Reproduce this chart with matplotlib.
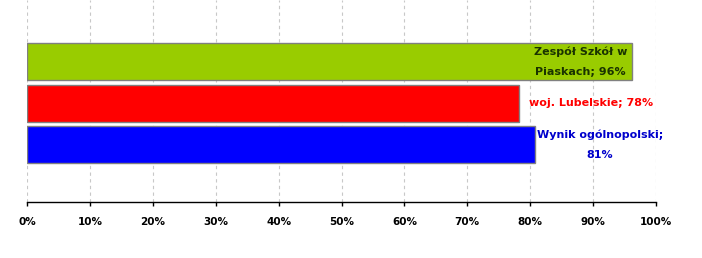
import matplotlib
matplotlib.use("Agg")
import matplotlib.pyplot as plt
from matplotlib.ticker import PercentFormatter

# data (bottom to top)
series_names = ["Wynik ogólnopolski", "woj. Lubelskie", "Zespół Szkół w Piaskach"]
series_values = [80.7, 78.2, 96.2]
bar_colors = ["#0000FF", "#FF0000", "#99CC00"]
label_colors = ["#0000CC", "#FF0000", "#1A3300"]
label_texts = ["Wynik ogólnopolski;\n81%", "woj. Lubelskie; 78%", "Zespół Szkół w\nPiaskach; 96%"]
x_ticks = [0, 10, 20, 30, 40, 50, 60, 70, 80, 90, 100]

fig = plt.figure(figsize=(7.02, 2.58), dpi=100)
ax = fig.add_axes([27 / 702, 56 / 258, 629 / 702, 202 / 258])

ypos = list(range(len(series_values)))
ax.barh(ypos, series_values, height=0.89, color=bar_colors,
        edgecolor="#808080", linewidth=1.0, zorder=3)

ax.set_xlim(0, 100)
ax.set_ylim(-1.38, 3.48)
ax.set_xticks(x_ticks)
ax.xaxis.set_major_formatter(PercentFormatter(decimals=0))
ax.set_yticks([])
ax.grid(axis="x", color="#C8C8C8", linestyle=(0, (3, 3)), linewidth=0.8, zorder=0)
for s in ["left", "right", "top"]:
    ax.spines[s].set_visible(False)
ax.spines["bottom"].set_linewidth(1.0)
ax.tick_params(axis="x", length=3, width=1, pad=8, labelsize=7.5)
for t in ax.get_xticklabels():
    t.set_fontweight("bold")
    t.set_family("DejaVu Sans")

font = dict(fontsize=8, fontweight="bold", family="DejaVu Sans", zorder=5)
# labels
ax.annotate(label_texts[0], (series_values[0], ypos[0]), xytext=(47, 0),
            textcoords="offset points", ha="center", va="center",
            color=label_colors[0], linespacing=2.2, **font)
ax.annotate(label_texts[1], (series_values[1], ypos[1]), xytext=(7, 0),
            textcoords="offset points", ha="left", va="center",
            color=label_colors[1], **font)
ax.annotate(label_texts[2], (series_values[2], ypos[2]), xytext=(-37, 0),
            textcoords="offset points", ha="center", va="center",
            color=label_colors[2], linespacing=2.2, **font)

fig.savefig("out.png", dpi=100)
